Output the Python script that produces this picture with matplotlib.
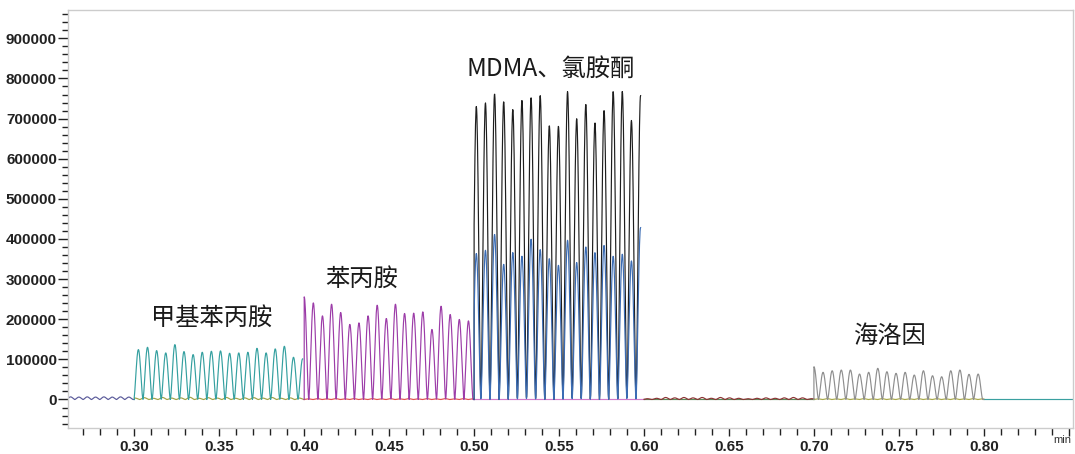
import numpy as np
import matplotlib
matplotlib.use('Agg')
import matplotlib.pyplot as plt
from matplotlib.ticker import MultipleLocator, FixedLocator

plt.rcParams['font.family'] = ['Liberation Sans', 'DejaVu Sans']

# scan spacing between neighbouring peaks (min)
SPACING = 0.00537

# peak heights, one value per scan
meth_peaks = [124400, 130100, 121900, 116100, 136800, 119400, 111900, 117700, 120200,
              121100, 115200, 116100, 117700, 127600, 116100, 126100, 132600, 105200, 101200]
amph_peaks = [255700, 240800, 208500, 237600, 216900, 187100, 191000, 208500, 235100,
              202000, 237600, 214400, 215200, 218400, 174600, 232600, 211900, 199500, 196000]
mdma_peaks = [730100, 739300, 761700, 742500, 722600, 745000, 751700, 757500, 682800,
              681100, 767400, 699500, 735100, 689600, 720900, 767400, 767400, 695300, 757500]
ketamine_peaks = [363700, 371900, 411700, 337100, 366200, 357000, 399300, 373600, 351200,
                  334600, 396800, 341300, 380100, 366200, 384300, 357000, 361900, 345300, 428400]
heroin_peaks = [81600, 67700, 71600, 73400, 73400, 63400, 67700, 77600, 69200,
                65200, 67700, 60900, 71600, 59200, 56700, 71600, 73400, 62700, 63400]

# small baseline traces
pre_wiggle = [6500, 6000, 6500, 6000, 6500, 6000, 6500, 6000]
meth_minor = [3500, 4500, 3000, 5000, 3500, 4000, 5500, 3000, 4500, 3500,
              5000, 3000, 4000, 4500, 3500, 5000, 3000, 4000, 3500]
amph_minor = [1500, 2000, 1500, 2000, 1500, 2000, 1500, 2000, 1500, 2000,
              1500, 2000, 1500, 2000, 1500, 2000, 1500, 2000, 1500]
gap_minor = [2000, 3000, 5000, 4000, 5000, 4000, 5000, 3000, 5000, 4000,
             3000, 2000, 3000, 4000, 3000, 4000, 5000, 4000, 2000]
heroin_minor = [1500, 2000, 1500, 2000, 1500, 2000, 1500, 2000, 1500, 2000,
                1500, 2000, 1500, 2000, 1500, 2000, 1500, 2000, 1500]

labels = ['甲基苯丙胺', '苯丙胺', 'MDMA、氯胺酮', '海洛因']
label_x = [0.3457, 0.434, 0.5452, 0.7443]
label_y = [203000, 300000, 823600, 158000]

x_ticks = [0.30, 0.35, 0.40, 0.45, 0.50, 0.55, 0.60, 0.65, 0.70, 0.75, 0.80, 0.85]
x_ticklabels = ['0.30', '0.35', '0.40', '0.45', '0.50', '0.55', '0.60', '0.65',
                '0.70', '0.75', '0.80', '']


def scan_trace(heights, first, start, end, spacing=SPACING, jump=True):
    # one lobe per scan, lobes touch zero halfway between scans
    x = np.linspace(start, end, 600)
    y = np.zeros_like(x)
    for k, h in enumerate(heights):
        c = first + k * spacing
        d = (x - c) / spacing
        m = np.abs(d) < 0.5
        y[m] += h * np.cos(np.pi * d[m]) ** 1.6
    if jump:
        x = np.concatenate([[start], x])
        y = np.concatenate([[0], y])
    return x, y


fig, ax = plt.subplots(figsize=(10.75, 4.54), dpi=100)
fig.subplots_adjust(left=0.0633, right=0.998, bottom=0.0573, top=0.978)

lw = 0.85
# baselines / minor traces
ax.plot(*scan_trace(pre_wiggle, 0.2625, 0.2605, 0.300, spacing=0.0049, jump=False),
        color='#5a5a9a', lw=lw)
ax.plot(*scan_trace(meth_minor, 0.3005, 0.300, 0.400, jump=False), color='#a2a244', lw=lw)
ax.plot(*scan_trace(amph_minor, 0.4025, 0.400, 0.500, jump=False), color='#e05050', lw=lw)
ax.plot([0.500, 0.600], [0, 0], color='#d27ac8', lw=lw)
ax.plot([0.600, 0.700], [0, 0], color='#5a8a5a', lw=lw)
ax.plot(*scan_trace(gap_minor, 0.6020, 0.600, 0.700, jump=False), color='#8b3333', lw=lw)
ax.plot(*scan_trace(heroin_minor, 0.7025, 0.700, 0.800, jump=False), color='#a8a84a', lw=lw)
ax.plot([0.800, 0.8524], [0, 0], color='#3aa0a0', lw=lw)

# main traces
ax.plot(*scan_trace(meth_peaks, 0.3024, 0.300, 0.3991), color='#35a0a0', lw=lw)
ax.plot(*scan_trace(amph_peaks, 0.4000, 0.400, 0.500), color='#9c3ca8', lw=lw)
ax.plot(*scan_trace(mdma_peaks, 0.5013, 0.500, 0.5980), color='#1e1e1e', lw=lw)
ax.plot(*scan_trace(ketamine_peaks, 0.5013, 0.500, 0.5980), color='#3b6cb4', lw=lw)
ax.plot(*scan_trace(heroin_peaks, 0.7000, 0.700, 0.800), color='#8e8e8e', lw=lw)

for txt, tx, ty in zip(labels, label_x, label_y):
    ax.text(tx, ty, txt, ha='center', va='center', fontsize=17.5, color='#1a1a1a',
            family=['Noto Sans CJK SC', 'DejaVu Sans'], fontweight='light')

ax.set_xlim(0.2610, 0.8524)
ax.set_ylim(-71000, 970600)

ax.xaxis.set_major_locator(FixedLocator(x_ticks))
ax.set_xticklabels(x_ticklabels)
ax.xaxis.set_minor_locator(MultipleLocator(0.01))
ax.yaxis.set_major_locator(MultipleLocator(100000))
ax.yaxis.set_minor_locator(MultipleLocator(20000))
ax.set_yticks(np.arange(0, 900001, 100000))
ax.set_yticklabels([str(v) for v in range(0, 900001, 100000)])

ax.tick_params(axis='both', which='major', labelsize=11, colors='#222222', width=1.0)
ax.tick_params(axis='y', which='major', length=7, pad=1)
ax.tick_params(axis='y', which='minor', length=4, width=1.0, colors='#222222')
ax.tick_params(axis='x', which='major', length=6, pad=3)
ax.tick_params(axis='x', which='minor', length=5, width=1.0, colors='#222222')
for lab in ax.get_xticklabels() + ax.get_yticklabels():
    lab.set_fontweight('bold')

for sp in ax.spines.values():
    sp.set_color('#cccccc')
    sp.set_linewidth(1.0)

ax.text(0.8462, -101000, 'min', fontsize=8, color='#333333', ha='center', va='center',
        clip_on=False)

fig.savefig('out.png', dpi=100)
